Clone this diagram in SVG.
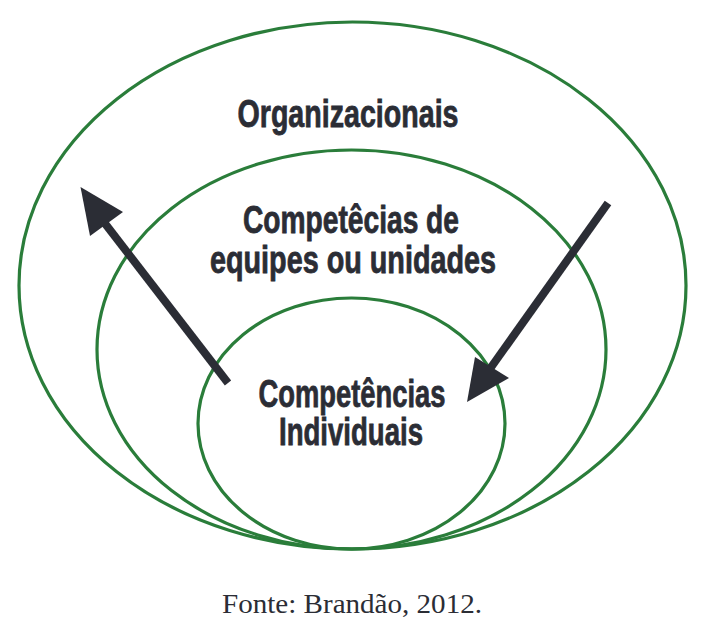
<svg xmlns="http://www.w3.org/2000/svg" width="705" height="630" viewBox="0 0 705 630">
<style>
.ring{fill:none;stroke:#2a7d3a;stroke-width:3.2}
.lbl{font-family:"Liberation Sans Narrow","Liberation Sans",Arial,sans-serif;font-weight:bold;font-size:38px;fill:#2b2d35;stroke:#2b2d35;stroke-width:0.8;text-anchor:middle}
.src{font-family:"Liberation Serif","Times New Roman",serif;font-size:27px;fill:#2b2d35;text-anchor:middle}
.shaft{stroke:#2b2d35;stroke-width:8;fill:none}
.head{fill:#2b2d35}
</style>
<rect width="705" height="630" fill="#ffffff"/>
<g id="organizacionais">
<ellipse class="ring" cx="352.5" cy="285.5" rx="333.5" ry="263.5"/>
<text class="lbl" x="348" y="127" textLength="221" lengthAdjust="spacingAndGlyphs">Organizacionais</text>
</g>
<g id="equipes">
<ellipse class="ring" cx="351.5" cy="349.5" rx="254.5" ry="199.5"/>
<text class="lbl" x="351" y="233" textLength="216" lengthAdjust="spacingAndGlyphs">Competêcias de</text>
<text class="lbl" x="353" y="273" textLength="286" lengthAdjust="spacingAndGlyphs">equipes ou unidades</text>
</g>
<g id="individuais">
<ellipse class="ring" cx="351.5" cy="423.5" rx="153.5" ry="125.5"/>
<text class="lbl" x="352" y="407" textLength="187" lengthAdjust="spacingAndGlyphs">Competências</text>
<text class="lbl" x="351" y="445" textLength="144" lengthAdjust="spacingAndGlyphs">Individuais</text>
</g>
<g id="connectors">
<line class="shaft" x1="228" y1="383" x2="100" y2="217"/>
<polygon class="head" points="80.5,187 123,212 90,236"/>
<line class="shaft" x1="608" y1="203" x2="487" y2="373"/>
<polygon class="head" points="467,402 475,357 509,378"/>
</g>
<text class="src" x="352" y="613" textLength="260" lengthAdjust="spacingAndGlyphs">Fonte: Brandão, 2012.</text>
</svg>
